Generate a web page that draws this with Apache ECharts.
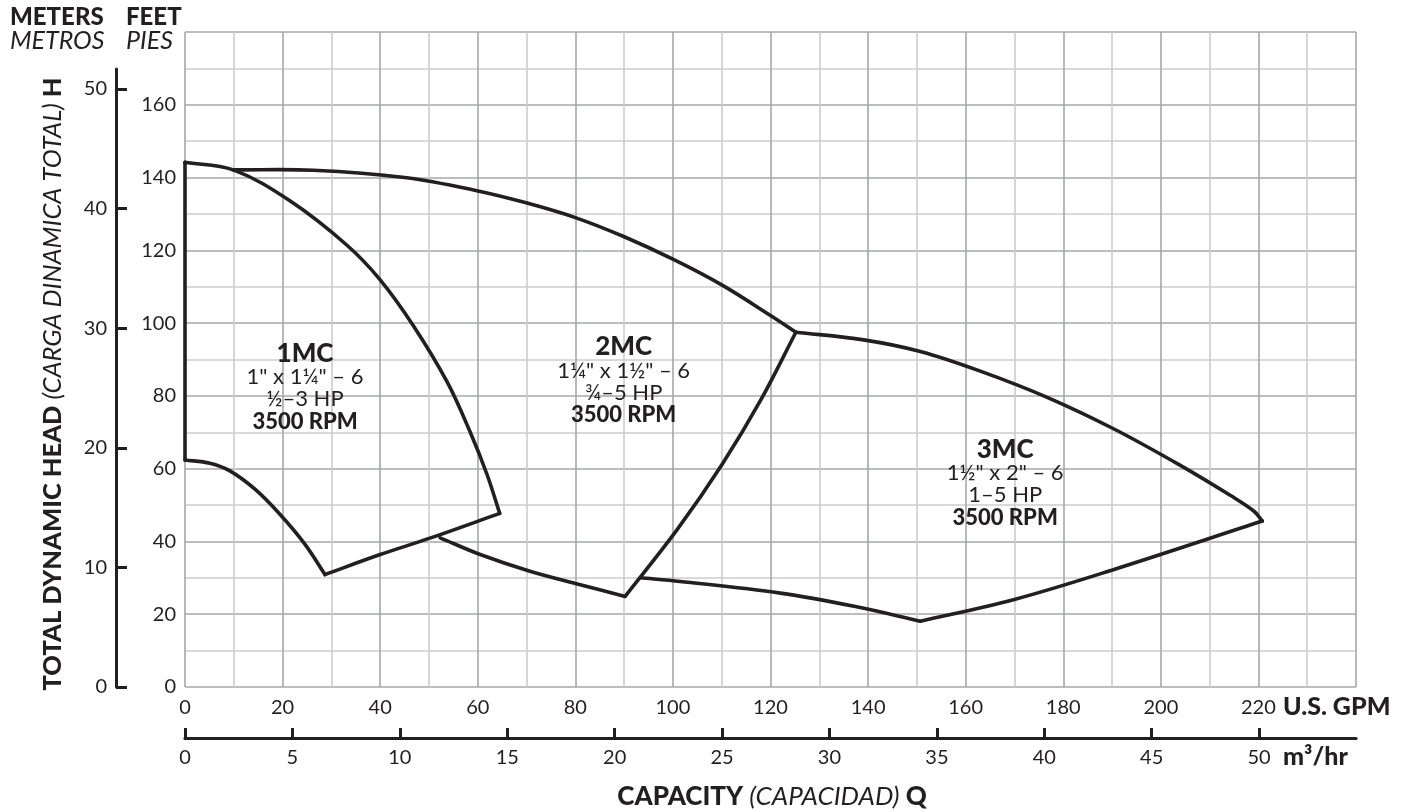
<!DOCTYPE html>
<html>
<head>
<meta charset="utf-8">
<script src="https://cdn.jsdelivr.net/npm/echarts@6/dist/echarts.min.js"></script>
<style>
html,body{margin:0;padding:0;background:#fff;}
#c{width:1410px;height:812px;}
</style>
</head>
<body>
<div id="c"></div>
<script>
// ---------- DATA (U.S. GPM, feet) ----------
const gpmTickLabels = [0,20,40,60,80,100,120,140,160,180,200,220];
const m3hrTickLabels = [0,5,10,15,20,25,30,35,40,45,50];
const feetTickLabels = [0,20,40,60,80,100,120,140,160];
const meterTickLabels = [0,10,20,30,40,50];

const mc1Left = [[0,62.4],[0,144.2]];
const mc1Top = [[0,144.2],[9.9,142.1],[21.5,133.6],[33.2,121.4],[40,111.9],[46.8,99.3],[53.7,83.9],[58.4,70.2],[61.9,58.4],[64.5,47.7]];
const mc1Bottom = [[0,62.4],[5.1,61.5],[9.2,59.4],[14.4,54.3],[19.5,47.4],[24.6,39.2],[28.7,30.9]];
const mc1BottomRight = [[28.7,30.9],[40,36.4],[50.2,40.9],[64.5,47.7]];

const mc2Top = [[9.8,142.1],[26.3,142.0],[45,140.0],[59.8,136.4],[70.1,133.0],[80,129.0],[89.9,123.8],[100.1,117.5],[110,110.5],[120,102.1],[125.2,97.5]];
const mc2Right = [[125.2,97.5],[118.1,79.1],[110.1,61.2],[100.9,43.3],[90.2,24.9]];
const mc2Bottom = [[52.3,41.0],[60.5,36.4],[70.7,31.8],[81,28.1],[90.2,24.9]];

const mc3Top = [[125.2,97.5],[139.1,95.4],[150.7,92.2],[163,86.8],[176.7,79.6],[190.4,70.9],[204,60.9],[214.3,52.6],[219.1,48.3],[220.8,45.6]];
const mc3BottomRight = [[150.7,18.1],[169.8,24.0],[190.4,32.3],[220.8,45.6]];
const mc3BottomLeft = [[93.3,30.0],[101.5,29.0],[122,25.8],[137.4,22.1],[150.7,18.1]];

const modelNames = ['1MC','2MC','3MC'];
const modelSizes = ['1" x 1¼" – 6','1¼" x 1½" – 6','1½" x 2" – 6'];
const modelHP = ['½–3 HP','¾–5 HP','1–5 HP'];
const modelRPM = ['3500 RPM','3500 RPM','3500 RPM'];
const modelLabelAt = [[24.6,82.4],[89.9,84.2],[168.1,56.0]];

// ---------- CHART ----------
const INK = '#231f20';
const FONT = 'Lato, "Noto Sans", sans-serif';
const HEAVY = 900;
const GPM_PER_M3HR = 4.40287;
const SMOOTH = 0.36;

const edges = [mc1Left, mc1Top, mc1Bottom, mc1BottomRight, mc2Top, mc2Right, mc2Bottom, mc3Top, mc3BottomRight, mc3BottomLeft];

function smoothPath(pts){
  const n = pts.length;
  if (n < 3) return 'M' + pts.map(p => p[0].toFixed(2) + ' ' + p[1].toFixed(2)).join(' L');
  const before = [], after = [];
  for (let i = 0; i < n; i++){
    const p = pts[i], pr = pts[Math.max(i-1,0)], nx = pts[Math.min(i+1,n-1)];
    const vx = nx[0]-pr[0], vy = nx[1]-pr[1];
    const d0 = Math.hypot(p[0]-pr[0], p[1]-pr[1]);
    const d1 = Math.hypot(nx[0]-p[0], nx[1]-p[1]);
    const s = d0 + d1 || 1;
    before.push([p[0]-vx*SMOOTH*d0/s, p[1]-vy*SMOOTH*d0/s]);
    after.push([p[0]+vx*SMOOTH*d1/s, p[1]+vy*SMOOTH*d1/s]);
  }
  let d = 'M' + pts[0][0].toFixed(2) + ' ' + pts[0][1].toFixed(2);
  for (let i = 0; i < n-1; i++){
    d += ' C' + after[i][0].toFixed(2) + ' ' + after[i][1].toFixed(2) + ' ' +
         before[i+1][0].toFixed(2) + ' ' + before[i+1][1].toFixed(2) + ' ' +
         pts[i+1][0].toFixed(2) + ' ' + pts[i+1][1].toFixed(2);
  }
  return d;
}

const chart = echarts.init(document.getElementById('c'), null, {renderer:'canvas'});

const edgeSeries = {
  type:'custom', coordinateSystem:'cartesian2d', xAxisIndex:0, yAxisIndex:0, silent:true, z:5, clip:false,
  data: edges.map((e,i) => [e[0][0], e[0][1], i]),
  encode:{x:0, y:1},
  renderItem: function(params, api){
    const e = edges[api.value(2)];
    const pts = e.map(p => api.coord(p));
    return {
      type:'path',
      shape:{pathData: smoothPath(pts)},
      style:{fill:null, stroke:INK, lineWidth:3.6, lineJoin:'round', lineCap:'round'}
    };
  }
};

const labelSeries = {
  type:'scatter', xAxisIndex:0, yAxisIndex:0, symbolSize:1, silent:true, z:6,
  itemStyle:{opacity:0, color:'#fff'},
  data: modelLabelAt.map((p,i)=>({value:p, name:String(i)})),
  label:{
    show:true, position:'inside', align:'center', verticalAlign:'middle', opacity:1,
    color:INK, textBorderWidth:0,
    formatter: function(p){
      const i = +p.name;
      return '{b|'+modelNames[i]+'}\n{r|'+modelSizes[i]+'}\n{r|'+modelHP[i]+'}\n{p|'+modelRPM[i]+'}';
    },
    rich:{
      b:{fontFamily:FONT, fontWeight:HEAVY, fontSize:26, color:INK, lineHeight:25, align:'center', textBorderWidth:0},
      r:{fontFamily:FONT, fontSize:22, color:INK, lineHeight:22, align:'center', textBorderWidth:0},
      p:{fontFamily:FONT, fontWeight:HEAVY, fontSize:22, color:INK, lineHeight:23, align:'center', textBorderWidth:0}
    }
  }
};

const option = {
  animation:false,
  backgroundColor:'#ffffff',
  grid:[
    {left:185, right:54, top:32, bottom:125},
    {left:116, width:10, top:69, bottom:125}
  ],
  xAxis:[
    {
      type:'value', gridIndex:0, min:0, max:240, interval:10, position:'bottom',
      axisLine:{show:false}, axisTick:{show:false},
      axisLabel:{
        customValues: gpmTickLabels, margin:11,
        fontFamily:FONT, fontSize:20, color:INK,
        formatter: v => (gpmTickLabels.indexOf(v) >= 0 ? String(v) : '')
      },
      splitLine:{show:true, lineStyle:{color:['#a5a7aa','#cbccce'], width:1.6}}
    },
    {
      type:'value', gridIndex:0, min:0, max:240/GPM_PER_M3HR, interval:5, position:'bottom', offset:51,
      axisLine:{show:true, onZero:false, lineStyle:{color:INK, width:3.2}},
      axisTick:{show:true, inside:true, length:10, customValues:m3hrTickLabels, lineStyle:{color:INK, width:3}},
      axisLabel:{
        customValues: m3hrTickLabels, margin:10,
        fontFamily:FONT, fontSize:20, color:INK,
        formatter: v => (m3hrTickLabels.indexOf(v) >= 0 ? String(v) : '')
      },
      splitLine:{show:false}
    },
    {type:'value', gridIndex:1, show:false, min:0, max:1}
  ],
  yAxis:[
    {
      type:'value', gridIndex:0, min:0, max:180, interval:10, position:'left',
      axisLine:{show:false}, axisTick:{show:false},
      axisLabel:{
        customValues: feetTickLabels, margin:9,
        fontFamily:FONT, fontSize:20, color:INK,
        formatter: v => (feetTickLabels.indexOf(v) >= 0 ? String(v) : '')
      },
      splitLine:{show:true, lineStyle:{color:['#a5a7aa','#cbccce'], width:1.6}}
    },
    {
      type:'value', gridIndex:1, min:0, max:(687-69)/11.96, interval:10, position:'left',
      axisLine:{show:true, onZero:false, lineStyle:{color:INK, width:3}},
      axisTick:{show:true, inside:true, length:11, customValues:meterTickLabels, lineStyle:{color:INK, width:3}},
      axisLabel:{
        customValues: meterTickLabels, margin:9,
        fontFamily:FONT, fontSize:20, color:INK,
        formatter: v => (meterTickLabels.indexOf(v) >= 0 ? String(v) : '')
      },
      splitLine:{show:false}
    }
  ],
  series:[ edgeSeries, labelSeries ],
  graphic:[
    {type:'text', x:10, y:17, style:{text:'METERS', fontFamily:FONT, fontWeight:HEAVY, fontSize:24, fill:INK, align:'left', verticalAlign:'middle'}},
    {type:'text', x:126, y:17, style:{text:'FEET', fontFamily:FONT, fontWeight:HEAVY, fontSize:24, fill:INK, align:'left', verticalAlign:'middle'}},
    {type:'text', x:10, y:41, style:{text:'METROS', fontFamily:FONT, fontStyle:'italic', fontSize:25, fill:INK, align:'left', verticalAlign:'middle'}},
    {type:'text', x:126, y:41, style:{text:'PIES', fontFamily:FONT, fontStyle:'italic', fontSize:25, fill:INK, align:'left', verticalAlign:'middle'}},
    {type:'text', x:1283, y:707, style:{text:'U.S. GPM', fontFamily:FONT, fontWeight:HEAVY, fontSize:25, fill:INK, align:'left', verticalAlign:'middle'}},
    {type:'text', x:1283, y:757, style:{text:'m³/hr', fontFamily:FONT, fontWeight:HEAVY, fontSize:25, fill:INK, align:'left', verticalAlign:'middle'}},
    {type:'text', x:772, y:797, style:{
      text:'{b|CAPACITY }{i|(CAPACIDAD) }{b|Q}', align:'center', verticalAlign:'middle',
      rich:{
        b:{fontFamily:FONT, fontWeight:HEAVY, fontSize:26, fill:INK},
        i:{fontFamily:FONT, fontStyle:'italic', fontSize:26, fill:INK}
      }}},
    {type:'text', x:53, y:384, rotation:Math.PI/2, style:{
      text:'{b|TOTAL DYNAMIC HEAD }{i|(CARGA DINAMICA TOTAL) }{b|H}', align:'center', verticalAlign:'middle',
      rich:{
        b:{fontFamily:FONT, fontWeight:HEAVY, fontSize:25.5, fill:INK},
        i:{fontFamily:FONT, fontStyle:'italic', fontSize:25.5, fill:INK}
      }}}
  ]
};
chart.setOption(option);
</script>
</body>
</html>
